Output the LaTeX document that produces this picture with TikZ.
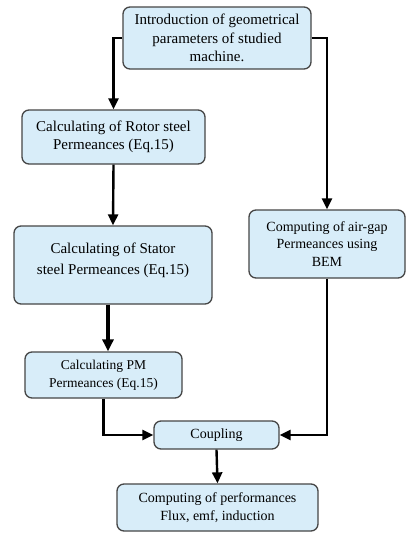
\documentclass[tikz,border=0pt]{standalone}
\usepackage{fontspec}
\setmainfont{Liberation Serif}
\usetikzlibrary{arrows.meta}
\definecolor{boxfill}{RGB}{216,237,249}
\definecolor{boxline}{RGB}{70,70,70}
\tikzset{
  fbox/.style={draw=boxline, line width=1.3pt, fill=boxfill, rounded corners=7pt,
    align=center, inner sep=2pt},
  fsA/.style={font=\fontsize{15}{18.5}\selectfont},
  fsB/.style={font=\fontsize{14}{17.5}\selectfont},
  fsC/.style={font=\fontsize{13.5}{18}\selectfont},
  conn/.style={line width=2.4pt, -{Triangle[length=11pt,width=10pt]}},
  connthick/.style={line width=4.5pt, -{Triangle[length=12pt,width=11pt]}},
}
\begin{document}
\begin{tikzpicture}[x=1pt,y=-1pt]
\useasboundingbox[fill=white] (0,0) rectangle (413,539);

\node[fbox, fsA, minimum width=188pt, minimum height=62pt] (top) at (217,38)
  {Introduction of geometrical\\parameters of studied\\machine.};
\node[fbox, fsA, minimum width=183pt, minimum height=54pt] (rotor) at (113.5,137)
  {Calculating of Rotor steel\\Permeances (Eq.15)};
\node[fbox, fsA, minimum width=198pt, minimum height=78pt] (stator) at (113,265)
  {Calculating of Stator\\[2.5pt] steel Permeances (Eq.15)\\[-6pt]\mbox{}};
\node[fbox, fsC, minimum width=157pt, minimum height=46pt] (pm) at (103.5,375)
  {Calculating PM\\Permeances (Eq.15)};
\node[fbox, fsB, minimum width=156pt, minimum height=68pt] (air) at (327,244)
  {Computing of air-gap\\Permeances using\\BEM};
\node[fbox, fsB, minimum width=125pt, minimum height=28pt] (coup) at (216.5,435)
  {Coupling};
\node[fbox, fsB, minimum width=201pt, minimum height=47pt] (perf) at (217.5,507.5)
  {Computing of performances\\Flux, emf, induction};

\draw[conn] (top.west) -| (rotor.north);
\draw[conn] (top.east) -| (air.north);
\draw[conn] (rotor.south) -- (stator.north);
\draw[connthick] (stator.south -| 108,0) -- (pm.north -| 108,0);
\draw[conn] (pm.south) |- (coup.west);
\draw[conn] (air.south) |- (coup.east);
\draw[conn] (coup.south) -- (perf.north);
\end{tikzpicture}
\end{document}
